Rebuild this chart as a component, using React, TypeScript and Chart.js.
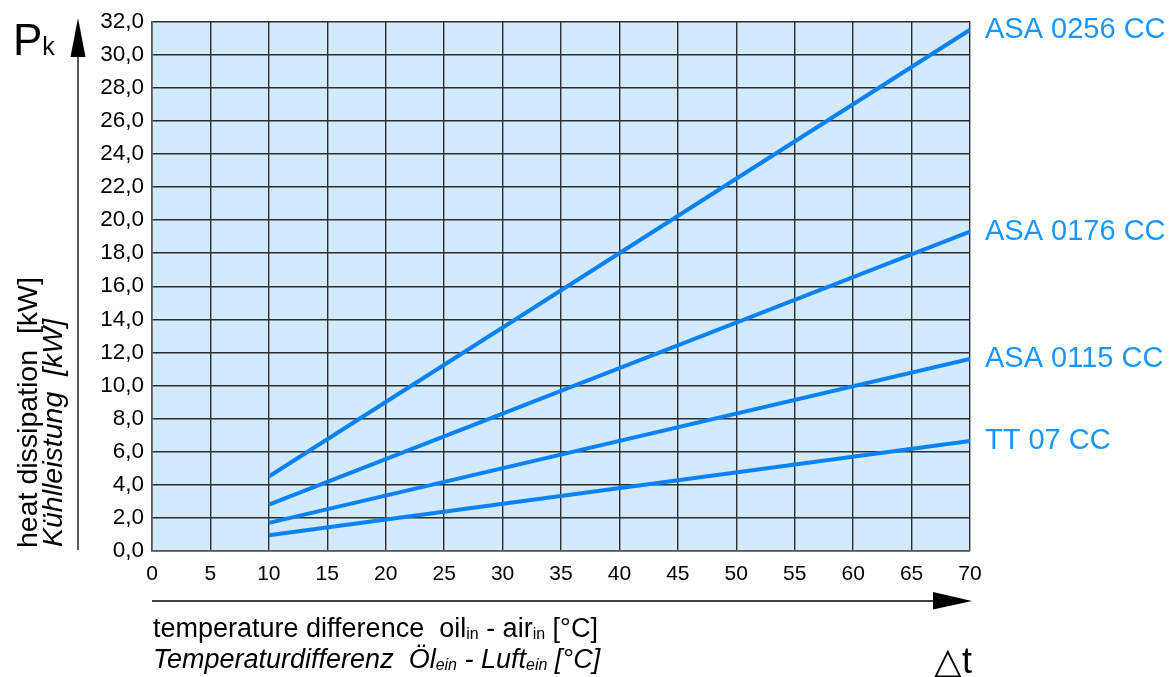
import React, { useEffect, useRef } from "react";
import { Chart, registerables } from "chart.js";

Chart.register(...registerables);

// ---- data ----
const deltaT = [10, 70];
const seriesNames = ["ASA 0256 CC", "ASA 0176 CC", "ASA 0115 CC", "TT 07 CC"];
const asa0256 = [4.5, 31.5];
const asa0176 = [2.8, 19.3];
const asa0115 = [1.7, 11.6];
const tt07 = [0.95, 6.65];
const seriesValues = [asa0256, asa0176, asa0115, tt07];
const xMin = 0, xMax = 70, xStep = 5;
const yMin = 0, yMax = 32, yStep = 2;

const FONT = "'Liberation Sans', Arial, Helvetica, sans-serif";
const LINE_COLOR = "#0a82f5";
const LABEL_COLOR = "#1a96ff";
const BG = "#d2eafc";
const GRID = "#2e2e2e";

const W = 1174, H = 677;

function drawRuns(ctx: CanvasRenderingContext2D, x: number, y: number, runs: { t: string; sub?: boolean }[], size: number, italic: boolean) {
  let cx = x;
  for (const r of runs) {
    const s = r.sub ? Math.round(size * 0.58) : size;
    ctx.font = `${italic ? "italic " : ""}${s}px ${FONT}`;
    ctx.fillText(r.t, cx, r.sub ? y + 2 : y);
    cx += ctx.measureText(r.t).width;
  }
}

const decorPlugin = {
  id: "decor",
  beforeDraw(chart: any) {
    const { ctx, chartArea } = chart;
    ctx.save();
    ctx.fillStyle = BG;
    ctx.fillRect(chartArea.left, chartArea.top, chartArea.right - chartArea.left, chartArea.bottom - chartArea.top);
    ctx.restore();
  },
  afterDraw(chart: any) {
    const { ctx, scales } = chart;
    const xs = scales.x, ys = scales.y;
    ctx.save();
    // series labels
    ctx.fillStyle = LABEL_COLOR;
    ctx.font = `29px ${FONT}`;
    ctx.textBaseline = "middle";
    ctx.textAlign = "left";
    seriesValues.forEach((vals, i) => {
      const yv = ys.getPixelForValue(vals[vals.length - 1]);
      const xv = xs.getPixelForValue(deltaT[deltaT.length - 1]) + 15;
      ctx.fillText(seriesNames[i], xv, Math.max(yv, 24));
    });

    ctx.fillStyle = "#000";
    ctx.strokeStyle = "#000";
    ctx.textBaseline = "alphabetic";
    // Pk
    ctx.font = `44px ${FONT}`;
    ctx.fillText("P", 13, 55);
    const pw = ctx.measureText("P").width;
    ctx.font = `25px ${FONT}`;
    ctx.fillText("k", 13 + pw, 55);

    // vertical arrow
    ctx.lineWidth = 1.3;
    ctx.beginPath();
    ctx.moveTo(78, 55);
    ctx.lineTo(78, 550);
    ctx.stroke();
    ctx.beginPath();
    ctx.moveTo(78, 18);
    ctx.lineTo(85.5, 57);
    ctx.lineTo(70.5, 57);
    ctx.closePath();
    ctx.fill();

    // horizontal arrow
    ctx.beginPath();
    ctx.moveTo(152, 601);
    ctx.lineTo(935, 601);
    ctx.stroke();
    ctx.beginPath();
    ctx.moveTo(972, 601);
    ctx.lineTo(933, 592);
    ctx.lineTo(933, 609.5);
    ctx.closePath();
    ctx.fill();

    // rotated y titles
    ctx.save();
    ctx.translate(37, 548);
    ctx.rotate(-Math.PI / 2);
    ctx.font = `28.5px ${FONT}`;
    ctx.fillText("heat dissipation  [kW]", 0, 0);
    ctx.restore();
    ctx.save();
    ctx.translate(62, 547);
    ctx.rotate(-Math.PI / 2);
    ctx.font = `italic 28.5px ${FONT}`;
    ctx.fillText("Kühlleistung  [kW]", 0, 0);
    ctx.restore();

    // x titles
    drawRuns(ctx, 153, 637, [
      { t: "temperature difference  oil" },
      { t: "in", sub: true },
      { t: " - air" },
      { t: "in", sub: true },
      { t: " [°C]" },
    ], 27, false);
    drawRuns(ctx, 153, 668, [
      { t: "Temperaturdifferenz  Öl" },
      { t: "ein", sub: true },
      { t: " - Luft" },
      { t: "ein", sub: true },
      { t: " [°C]" },
    ], 27, true);

    // delta t
    ctx.font = `36px ${FONT}`;
    ctx.fillText("△t", 934, 673);
    ctx.restore();
  },
};

export default function App() {
  const ref = useRef<HTMLCanvasElement>(null);
  useEffect(() => {
    if (!ref.current) return;
    const chart = new Chart(ref.current, {
      type: "line",
      data: {
        datasets: seriesValues.map((vals, i) => ({
          label: seriesNames[i],
          data: deltaT.map((x, j) => ({ x, y: vals[j] })),
          borderColor: LINE_COLOR,
          borderWidth: 4,
          pointRadius: 0,
          fill: false,
          tension: 0,
        })),
      },
      options: {
        animation: false,
        responsive: false,
        layout: { padding: { top: 19, right: 204, left: 0, bottom: 0 } },
        plugins: { legend: { display: false }, tooltip: { enabled: false } },
        scales: {
          x: {
            type: "linear",
            min: xMin,
            max: xMax,
            ticks: { stepSize: xStep, color: "#000", font: { family: FONT, size: 21 }, padding: 11, maxRotation: 0 },
            grid: { color: GRID, lineWidth: 1.4, drawTicks: false },
            border: { display: true, color: "#555", width: 1.5 },
            afterFit: (s: any) => { s.height = H - 551; },
          },
          y: {
            type: "linear",
            min: yMin,
            max: yMax,
            ticks: {
              stepSize: yStep,
              color: "#000",
              font: { family: FONT, size: 22.5 },
              padding: 8,
              callback: (v: any) => Number(v).toFixed(1).replace(".", ","),
            },
            grid: { color: GRID, lineWidth: 1.4, drawTicks: false },
            border: { display: true, color: "#555", width: 1.5 },
            afterFit: (s: any) => { s.width = 152; },
          },
        },
      },
      plugins: [decorPlugin],
    } as any);
    return () => chart.destroy();
  }, []);
  return (
    <div style={{ position: "fixed", left: 0, top: 0, width: W, height: H, background: "#fff" }}>
      <canvas ref={ref} width={W} height={H} style={{ width: W, height: H }} />
    </div>
  );
}
